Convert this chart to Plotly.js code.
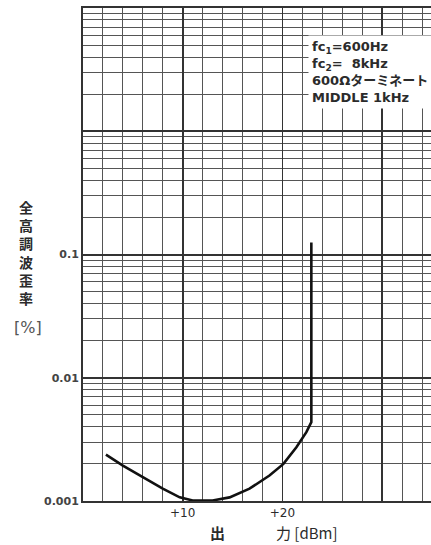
<!DOCTYPE html>
<html>
<head>
<meta charset="utf-8">
<script src="https://cdn.plot.ly/plotly-3.0.1.min.js"></script>
<style>
  html, body { margin: 0; padding: 0; background: #fff; }
  #chart { width: 431px; height: 545px; }
</style>
</head>
<body>
<div id="chart"></div>
<script>
// output level [dBm] vs total harmonic distortion [%]
const outputDbm = [2.3, 4.0, 6.0, 8.0, 9.7, 11.0, 13.0, 14.7, 16.7, 18.7, 20.1, 21.4, 22.4, 22.9, 22.9];
const thdPercent = [0.00238, 0.00194, 0.00156, 0.00126, 0.00107, 0.00101, 0.00101, 0.00107, 0.00126, 0.00161, 0.00200, 0.00273, 0.00362, 0.00436, 0.125];

const yTickVals = [0.001, 0.01, 0.1, 1, 10];
const yTickText = ['0.001', '0.01', '0.1', '', ''];
const xTickVals = [10, 20, 30];
const xTickText = ['+10', '+20', ''];

const noteLines = ['fc<sub>1</sub>=600Hz', 'fc<sub>2</sub>=\u00a0\u00a08kHz', '600Ωターミネート', 'MIDDLE 1kHz'];
const yTitleChars = ['全', '高', '調', '波', '歪', '率'];

const ink = '#2b2b2b';
const gridDark = '#333';
const gridLight = '#555';

const trace = {
  x: outputDbm,
  y: thdPercent,
  mode: 'lines',
  line: { color: '#111', width: 2.6, shape: 'linear' },
  hoverinfo: 'skip',
  showlegend: false
};

const layout = {
  width: 431,
  height: 545,
  margin: { l: 83, r: 0, t: 8, b: 44 },
  paper_bgcolor: '#fff',
  plot_bgcolor: '#fff',
  font: { family: 'DejaVu Sans, sans-serif', color: ink },
  xaxis: {
    range: [0, 34.9],
    tickmode: 'array',
    tickvals: xTickVals,
    ticktext: xTickText,
    ticks: '',
    tickfont: { size: 12, color: ink },
    showgrid: true,
    gridcolor: gridDark,
    gridwidth: 1.6,
    minor: { dtick: 2, showgrid: true, gridcolor: gridLight, gridwidth: 1 },
    showline: true,
    mirror: true,
    linecolor: gridDark,
    linewidth: 2,
    zeroline: false,
    fixedrange: true
  },
  yaxis: {
    type: 'log',
    range: [-3, 1],
    tickmode: 'array',
    tickvals: yTickVals,
    ticktext: yTickText,
    ticks: '',
    tickfont: { size: 11, color: '#444', weight: 'bold' },
    showgrid: true,
    gridcolor: gridDark,
    gridwidth: 2,
    minor: { dtick: 'D1', showgrid: true, gridcolor: gridLight, gridwidth: 1 },
    showline: true,
    linecolor: gridDark,
    linewidth: 2,
    zeroline: false,
    fixedrange: true
  },
  annotations: [
    {
      xref: 'x', yref: 'paper', x: 22.6, y: 0.871,
      xanchor: 'left', yanchor: 'middle', align: 'left',
      text: noteLines.join('<br>'),
      showarrow: false,
      bgcolor: '#fff',
      borderpad: 3,
      font: { family: 'DejaVu Sans, Noto Sans CJK JP, sans-serif', size: 13, color: ink, weight: 'bold' }
    },
    {
      xref: 'paper', yref: 'paper', x: -0.165, y: 0.504,
      xanchor: 'center', yanchor: 'middle',
      text: yTitleChars.join('<br>'),
      showarrow: false,
      font: { family: 'Noto Sans CJK JP, sans-serif', size: 14, color: ink, weight: 'bold' }
    },
    {
      xref: 'paper', yref: 'paper', x: -0.158, y: 0.352,
      xanchor: 'center', yanchor: 'middle',
      text: '[%]',
      showarrow: false,
      font: { family: 'DejaVu Sans, sans-serif', size: 16, color: '#555' }
    },
    {
      xref: 'x', yref: 'paper', x: 13.5, y: -0.064,
      xanchor: 'center', yanchor: 'middle',
      text: '出',
      showarrow: false,
      font: { family: 'Noto Sans CJK JP, sans-serif', size: 15, color: ink, weight: 'bold' }
    },
    {
      xref: 'x', yref: 'paper', x: 19.2, y: -0.064,
      xanchor: 'left', yanchor: 'middle',
      text: '力 [dBm]',
      showarrow: false,
      font: { family: 'Noto Sans CJK JP, sans-serif', size: 15, color: ink }
    }
  ]
};

Plotly.newPlot('chart', [trace], layout, { displayModeBar: false, staticPlot: true });
</script>
</body>
</html>
